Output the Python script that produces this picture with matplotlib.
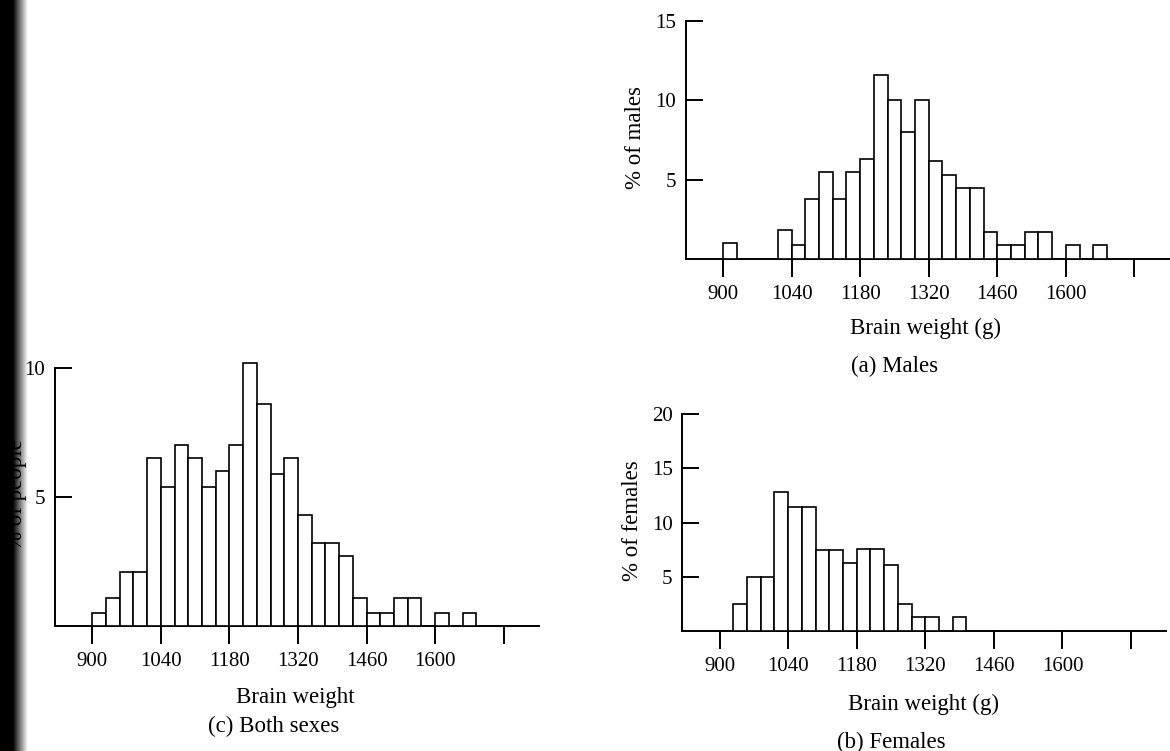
#!/usr/bin/env python

""" brain weight histograms: males, females and both sexes """

import numpy as np
import matplotlib
matplotlib.use("Agg")
import matplotlib.pyplot as plt

plt.rcParams['font.family'] = ['Liberation Serif', 'DejaVu Serif']

# left edge of each 28 g class
bin_starts = [900, 928, 956, 984, 1012, 1040, 1068, 1096, 1124, 1152,
              1180, 1208, 1236, 1264, 1292, 1320, 1348, 1376, 1404, 1432,
              1460, 1488, 1516, 1544, 1572, 1600, 1628, 1656]
bin_width = 28

# percentage of the group in each class
pct_males = [1.0, 0, 0, 0, 1.8, 0.9, 3.8, 5.5, 3.8, 5.5,
             6.3, 11.6, 10.0, 8.0, 10.0, 6.2, 5.3, 4.5, 4.5, 1.7,
             0.9, 0.9, 1.7, 1.7, 0, 0.9, 0, 0.9]
pct_females = [0, 2.5, 5.0, 5.0, 12.8, 11.4, 11.4, 7.5, 7.5, 6.3,
               7.6, 7.6, 6.1, 2.5, 1.3, 1.3, 0, 1.3, 0, 0,
               0, 0, 0, 0, 0, 0, 0, 0]
pct_both = [0.5, 1.1, 2.1, 2.1, 6.5, 5.4, 7.0, 6.5, 5.4, 6.0,
            7.0, 10.2, 8.6, 5.9, 6.5, 4.3, 3.2, 3.2, 2.7, 1.1,
            0.5, 0.5, 1.1, 1.1, 0, 0.5, 0, 0.5]

x_ticks = [900, 1040, 1180, 1320, 1460, 1600, 1740]
x_tick_labels = ['900', '1040', '1180', '1320', '1460', '1600', '']

W, H = 1170, 751   # canvas size in pixels


def box(left, bottom, right, top):
    """ axes rectangle from pixel edges, measured from the top-left corner """
    return [left / W, 1 - bottom / H, (right - left) / W, (bottom - top) / H]


def px(x, y):
    """ pixel position -> figure fraction """
    return x / W, 1 - y / H


def histogram(ax, heights, ymax, yticks, ylabel, ylabel_x):
    """ open-bar histogram in the old textbook style """
    starts = [s for s, h in zip(bin_starts, heights) if h > 0]
    vals = [h for h in heights if h > 0]
    ax.bar(starts, vals, width=bin_width, align='edge', facecolor='white',
           edgecolor='black', linewidth=1.2, clip_on=False, zorder=3)
    ax.set_xlim(824, 1812)
    ax.set_ylim(0, ymax)
    for side in ('top', 'right'):
        ax.spines[side].set_visible(False)
    for side in ('left', 'bottom'):
        ax.spines[side].set_linewidth(1.4)
    ax.set_xticks(x_ticks)
    ax.set_xticklabels(x_tick_labels)
    ax.set_yticks(yticks)
    ax.set_yticklabels([str(t) for t in yticks])
    ax.tick_params(axis='x', direction='out', length=13, width=1.4, pad=6,
                   labelsize=15)
    ax.tick_params(axis='y', direction='in', length=12, width=1.4, pad=7,
                   labelsize=15)
    ax.set_ylabel(ylabel, fontsize=16.5)
    # the label's right edge sits at ylabel_x (axes fraction)
    ax.yaxis.set_label_coords(ylabel_x, 0.51)
    ax.patch.set_alpha(0)


def main():
    """ main body """
    fig = plt.figure(figsize=(W / 100, H / 100), dpi=100)

    # binding shadow along the left edge of the scanned page
    shade = fig.add_axes([0, 0, 34 / W, 1], zorder=0)
    cols = np.linspace(0, 34, 68)
    profile = np.clip((28 - cols) / 15, 0, 1)
    shade.imshow(profile[np.newaxis, :], cmap='gray_r', vmin=0, vmax=1,
                 aspect='auto', extent=[0, 34, 0, 1])
    shade.set_axis_off()

    ax_m = fig.add_axes(box(685.7, 259, 1169.7, 21))
    histogram(ax_m, pct_males, 15, [5, 10, 15], '% of males', -0.082)

    ax_f = fig.add_axes(box(682.3, 631, 1166.3, 414))
    histogram(ax_f, pct_females, 20, [5, 10, 15, 20], '% of females', -0.081)

    ax_b = fig.add_axes(box(55, 626, 539, 368))
    histogram(ax_b, pct_both, 10, [5, 10], '% of people', -0.058)

    fig.text(*px(925, 328), 'Brain weight (g)', fontsize=16.5, ha='center', va='center')
    fig.text(*px(895, 366), '(a) Males', fontsize=16.5, ha='center', va='center')
    fig.text(*px(923, 704), 'Brain weight (g)', fontsize=16.5, ha='center', va='center')
    fig.text(*px(891, 742), '(b) Females', fontsize=16.5, ha='center', va='center')
    fig.text(*px(295, 698), 'Brain weight', fontsize=16.5, ha='center', va='center')
    fig.text(*px(274, 726), '(c) Both sexes', fontsize=16.5, ha='center', va='center')

    fig.savefig('out.png', dpi=100)
    plt.close(fig)


if __name__ == "__main__":
    main()
